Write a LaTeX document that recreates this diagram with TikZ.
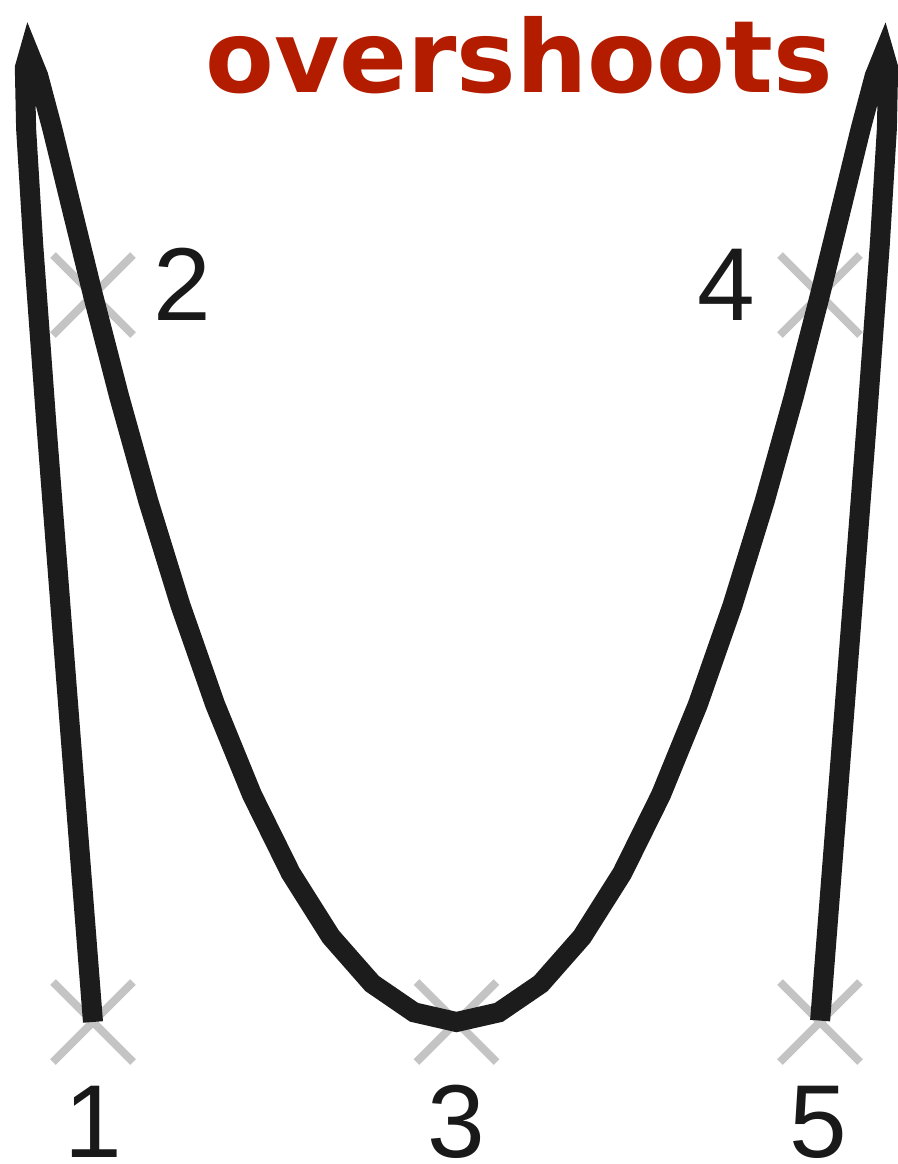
\documentclass[tikz,border=0pt]{standalone}
\usepackage{fontspec}
\newfontfamily\digitfont{Liberation Sans}
\newfontfamily\titlefont{DejaVu Sans}
\definecolor{curvecol}{RGB}{28,28,28}
\definecolor{markcol}{RGB}{196,196,196}
\definecolor{titlecol}{RGB}{180,28,0}
\definecolor{labelcol}{RGB}{25,25,25}
\begin{document}
\begin{tikzpicture}[x=0.02cm,y=-0.02cm,
  curve/.style={draw=curvecol,line width=0.4cm,line join=miter,line cap=butt},
  xmark/.style={draw=markcol,line width=0.16cm,line cap=butt},
  lbl/.style={font=\digitfont\fontsize{59}{60}\selectfont,text=labelcol,inner sep=0pt,anchor=base},
  titletext/.style={font=\titlefont\bfseries\fontsize{57}{60}\selectfont,text=titlecol,inner sep=0pt,anchor=base}]
\useasboundingbox (0,0) rectangle (897,1164);
\fill[white] (0,0) rectangle (897,1164);
\coordinate (p1) at (93,1022);
\coordinate (p2) at (93,295);
\coordinate (p3) at (456.5,1022);
\coordinate (p4) at (820,295);
\coordinate (p5) at (820,1022);
\foreach \n in {1,...,5} {
  \draw[xmark] ([shift={(-40,-40)}]p\n) -- ([shift={(40,40)}]p\n);
  \draw[xmark] ([shift={(-40,40)}]p\n) -- ([shift={(40,-40)}]p\n);
}
\draw[curve] plot[domain=-2:2,samples=41,variable=\u]
  ({456.5+727*(7/12*\u-\u*\u*\u/12)},{1022-727*(4/3*\u*\u-\u*\u*\u*\u/3)});
\node[lbl] (l1) at (93,1157) {1};
\node[lbl] (l2) at (182,320) {2};
\node[lbl] (l3) at (456,1157) {3};
\node[lbl] (l4) at (726,320) {4};
\node[lbl] (l5) at (818,1157) {5};
\node[titletext] (title) at (519,92) {overshoots};
\end{tikzpicture}
\end{document}
